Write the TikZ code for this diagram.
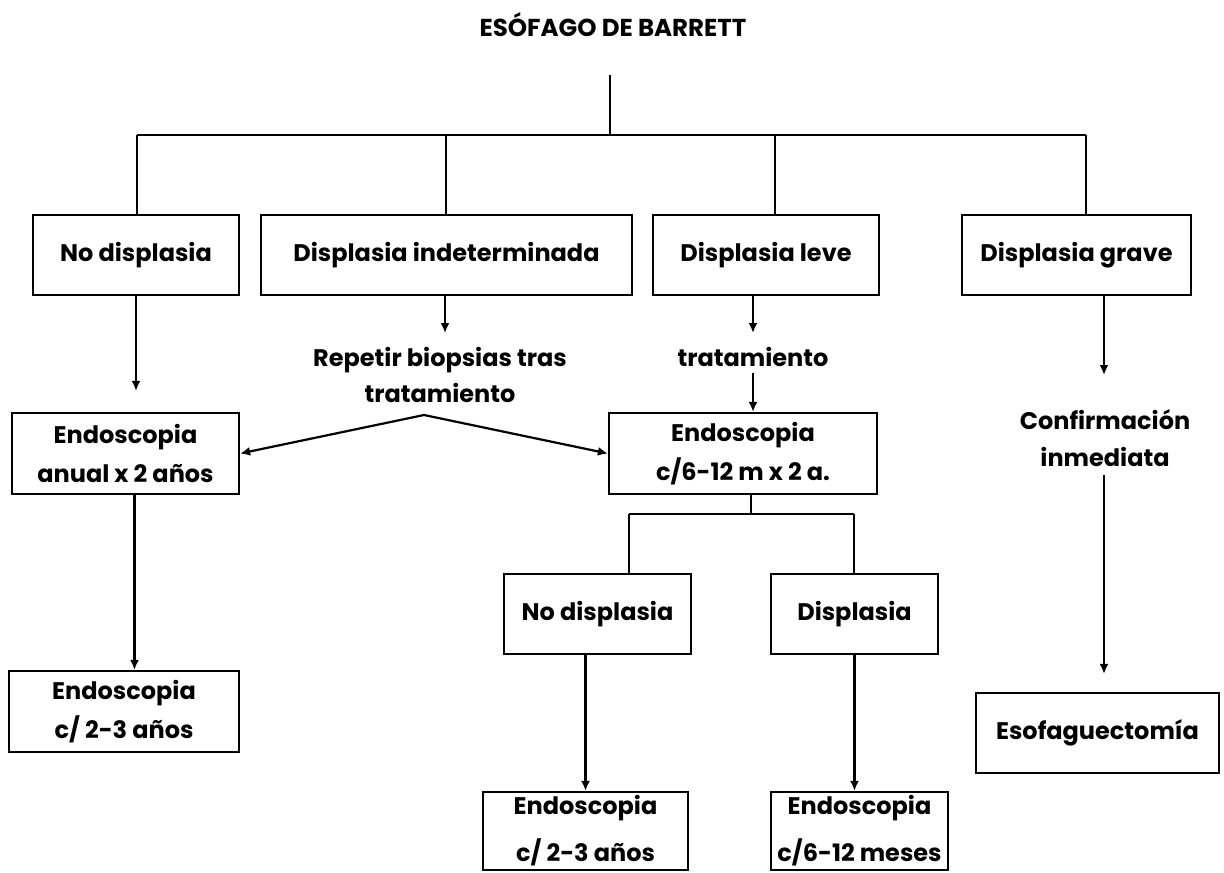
\documentclass[tikz,border=0pt]{standalone}
\usepackage{fontspec}
\setmainfont{Poppins}
\usetikzlibrary{arrows.meta}
\newcommand\lblfont{\fontsize{24}{39}\selectfont\bfseries}
\newcommand\ttlfont{\fontsize{24.5}{30}\selectfont\bfseries}
\tikzset{
  box/.style={draw, line width=2.2pt, inner sep=0pt, align=center, font=\lblfont},
  lbl/.style={inner sep=0pt, align=center, font=\lblfont},
  conn/.style={line width=2.2pt},
  arr/.style={conn, -{Latex[length=10pt,width=9pt]}},
}
\begin{document}
\begin{tikzpicture}[x=1pt,y=-1pt]
\useasboundingbox (0,0) rectangle (1224,873);
% title
\node[lbl, font=\ttlfont] (title) at (613,25) {ESÓFAGO DE BARRETT};
% first row
\node[box, minimum width=206, minimum height=80] (nd) at (136,255) {No displasia};
\node[box, minimum width=371, minimum height=80] (di) at (446.5,255) {Displasia indeterminada};
\node[box, minimum width=226, minimum height=80] (dl) at (766,255) {Displasia leve};
\node[box, minimum width=229, minimum height=80] (dg) at (1076.5,255) {Displasia grave};
% labels
\node[lbl] (rep) at (440,375) {Repetir biopsias tras\\[-3pt]tratamiento};
\node[lbl] (trat) at (753,357) {tratamiento};
\node[lbl] (conf) at (1105,438.5) {Confirmación\\[-2pt]inmediata};
% second row
\node[box, minimum width=227, minimum height=81] (ea) at (125.5,453.5) {Endoscopia\\anual x 2 años};
\node[box, minimum width=268, minimum height=81] (e6) at (743,453.5) {Endoscopia\\c/6-12 m x 2 a.};
% third
\node[box, minimum width=230, minimum height=81] (e23) at (124,711.5) {Endoscopia\\c/ 2-3 años};
\node[box, minimum width=187, minimum height=80] (nd2) at (597.5,614) {No displasia};
\node[box, minimum width=167, minimum height=80] (d2) at (854.5,614) {Displasia};
\node[box, minimum width=243, minimum height=80] (esof) at (1097.5,733) {Esofaguectomía};
% bottom
\node[box, minimum width=205, minimum height=78] (eb1) at (585.5,831) {Endoscopia\\[8pt]c/ 2-3 años};
\node[box, minimum width=177, minimum height=78] (eb2) at (859.5,831) {Endoscopia\\[8pt]c/6-12 meses};
% coordinates
\coordinate (t0) at (610,75);
\coordinate (hub) at (610,135);
\coordinate (h1) at (137,135);
\coordinate (h2) at (446,135);
\coordinate (h3) at (775,135);
\coordinate (h4) at (1086,135);
\coordinate (repin) at (445,333);
\coordinate (tratin) at (753,333);
\coordinate (tratout) at (753,373);
\coordinate (apex) at (424,415);
\coordinate (confin) at (1104,375);
\coordinate (confout) at (1104,475);
\coordinate (b0) at (751,514);
\coordinate (b1) at (629,514);
\coordinate (b2) at (854,514);
% tree from title
\draw[conn] (t0) -- (hub);
\draw[conn] (h1) -- (h4);
\draw[conn] (h1) -- (h1 |- nd.north);
\draw[conn] (h2) -- (h2 |- di.north);
\draw[conn] (h3) -- (h3 |- dl.north);
\draw[conn] (h4) -- (h4 |- dg.north);
% arrows
\draw[arr, shorten >=21pt] (nd.south) -- (nd.south |- ea.north);
\draw[arr] (repin |- di.south) -- (repin);
\draw[arr] (apex) -- (ea.east);
\draw[arr] (apex) -- (e6.west);
\draw[arr] (tratin |- dl.south) -- (tratin);
\draw[arr] (tratout) -- (tratout |- e6.north);
\draw[arr] (confin |- dg.south) -- (confin);
\draw[arr, shorten >=18pt] (confout) -- (confout |- esof.north);
\draw[arr] ([xshift=9pt]ea.south) -- ([xshift=9pt]ea.south |- e23.north);
\draw[conn] (b0 |- e6.south) -- (b0);
\draw[conn] (b1) -- (b2);
\draw[conn] (b1) -- (b1 |- nd2.north);
\draw[conn] (b2) -- (b2 |- d2.north);
\draw[arr] (eb1.north |- nd2.south) -- (eb1.north);
\draw[arr] (d2.south) -- (d2.south |- eb2.north);
\end{tikzpicture}
\end{document}
